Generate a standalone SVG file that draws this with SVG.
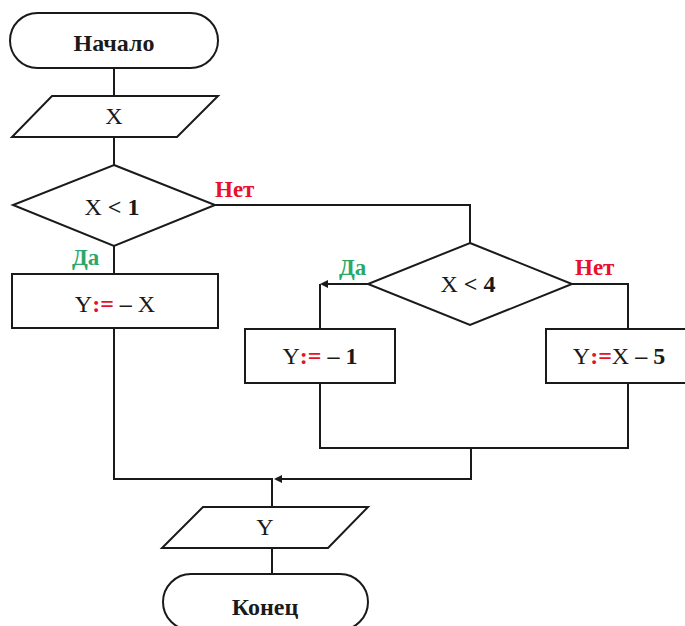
<svg xmlns="http://www.w3.org/2000/svg" width="685" height="626" viewBox="0 0 685 626">
  <style>
    .shape { fill: #ffffff; stroke: #1a1a1a; stroke-width: 2; }
    .wire { fill: none; stroke: #1a1a1a; stroke-width: 2; }
    .t { font-family: "Liberation Serif", "Times New Roman", serif; font-size: 24px; fill: #1a1a1a; text-anchor: middle; }
    .b { font-weight: bold; }
    .red { fill: #e8102a; font-weight: bold; }
    .no { font-family: "Liberation Serif", "Times New Roman", serif; font-size: 23px; font-weight: bold; fill: #e8102a; }
    .yes { font-family: "Liberation Serif", "Times New Roman", serif; font-size: 23px; font-weight: bold; fill: #2aa86a; }
  </style>
  <defs>
    <marker id="arrow" markerUnits="userSpaceOnUse" markerWidth="8" markerHeight="8" refX="1" refY="4" orient="auto">
      <path d="M0,0 L8,4 L0,8 Z" fill="#1a1a1a"/>
    </marker>
  </defs>
  <rect width="685" height="626" fill="#ffffff"/>

  <!-- connectors -->
  <g id="connectors">
    <path class="wire" d="M114 68 V96"/>
    <path class="wire" d="M114 137 V165"/>
    <path class="wire" d="M215 205 H470 V243"/>
    <path class="wire" d="M114 246 V274"/>
    <path class="wire" d="M368 284 H327" marker-end="url(#arrow)"/>
    <path class="wire" d="M320 284 V329"/>
    <path class="wire" d="M572 284 H628 V329"/>
    <path class="wire" d="M320 383 V448 H628 V383"/>
    <path class="wire" d="M471 448 V479 H281" marker-end="url(#arrow)"/>
    <path class="wire" d="M114 328 V479 H272 V507"/>
    <path class="wire" d="M272 548 V574"/>
  </g>

  <!-- branch labels -->
  <g id="labels">
    <text class="no" x="215" y="197">Нет</text>
    <text class="yes" x="72" y="265">Да</text>
    <text class="yes" x="339" y="275">Да</text>
    <text class="no" x="575" y="275">Нет</text>
  </g>

  <g id="start">
    <rect class="shape" x="10" y="13" width="208" height="55" rx="27.5"/>
    <text class="t b" x="114" y="51">Начало</text>
  </g>

  <g id="input-x">
    <polygon class="shape" points="52,96 218,96 177,137 12,137"/>
    <text class="t" x="114" y="124">X</text>
  </g>

  <g id="cond-x-lt-1">
    <polygon class="shape" points="114,165 215,205 114,246 13,205"/>
    <text class="t" x="112" y="215">X <tspan class="b">&lt; 1</tspan></text>
  </g>

  <g id="assign-neg-x">
    <rect class="shape" x="12" y="274" width="206" height="54"/>
    <text class="t" x="115" y="312">Y<tspan class="red">:=</tspan> <tspan class="b">–</tspan> X</text>
  </g>

  <g id="cond-x-lt-4">
    <polygon class="shape" points="470,243 572,284 470,325 368,284"/>
    <text class="t" x="468" y="292">X <tspan class="b">&lt; 4</tspan></text>
  </g>

  <g id="assign-minus-1">
    <rect class="shape" x="245" y="329" width="150" height="54"/>
    <text class="t" x="320" y="364">Y<tspan class="red">:=</tspan> <tspan class="b">– 1</tspan></text>
  </g>

  <g id="assign-x-minus-5">
    <rect class="shape" x="546" y="329" width="145" height="54"/>
    <text class="t" x="619" y="364">Y<tspan class="red">:=</tspan>X <tspan class="b">– 5</tspan></text>
  </g>

  <g id="output-y">
    <polygon class="shape" points="203,507 368,507 328,548 162,548"/>
    <text class="t" x="265" y="535">Y</text>
  </g>

  <g id="end">
    <rect class="shape" x="163" y="574" width="205" height="56" rx="28"/>
    <text class="t b" x="265" y="615">Конец</text>
  </g>
</svg>
